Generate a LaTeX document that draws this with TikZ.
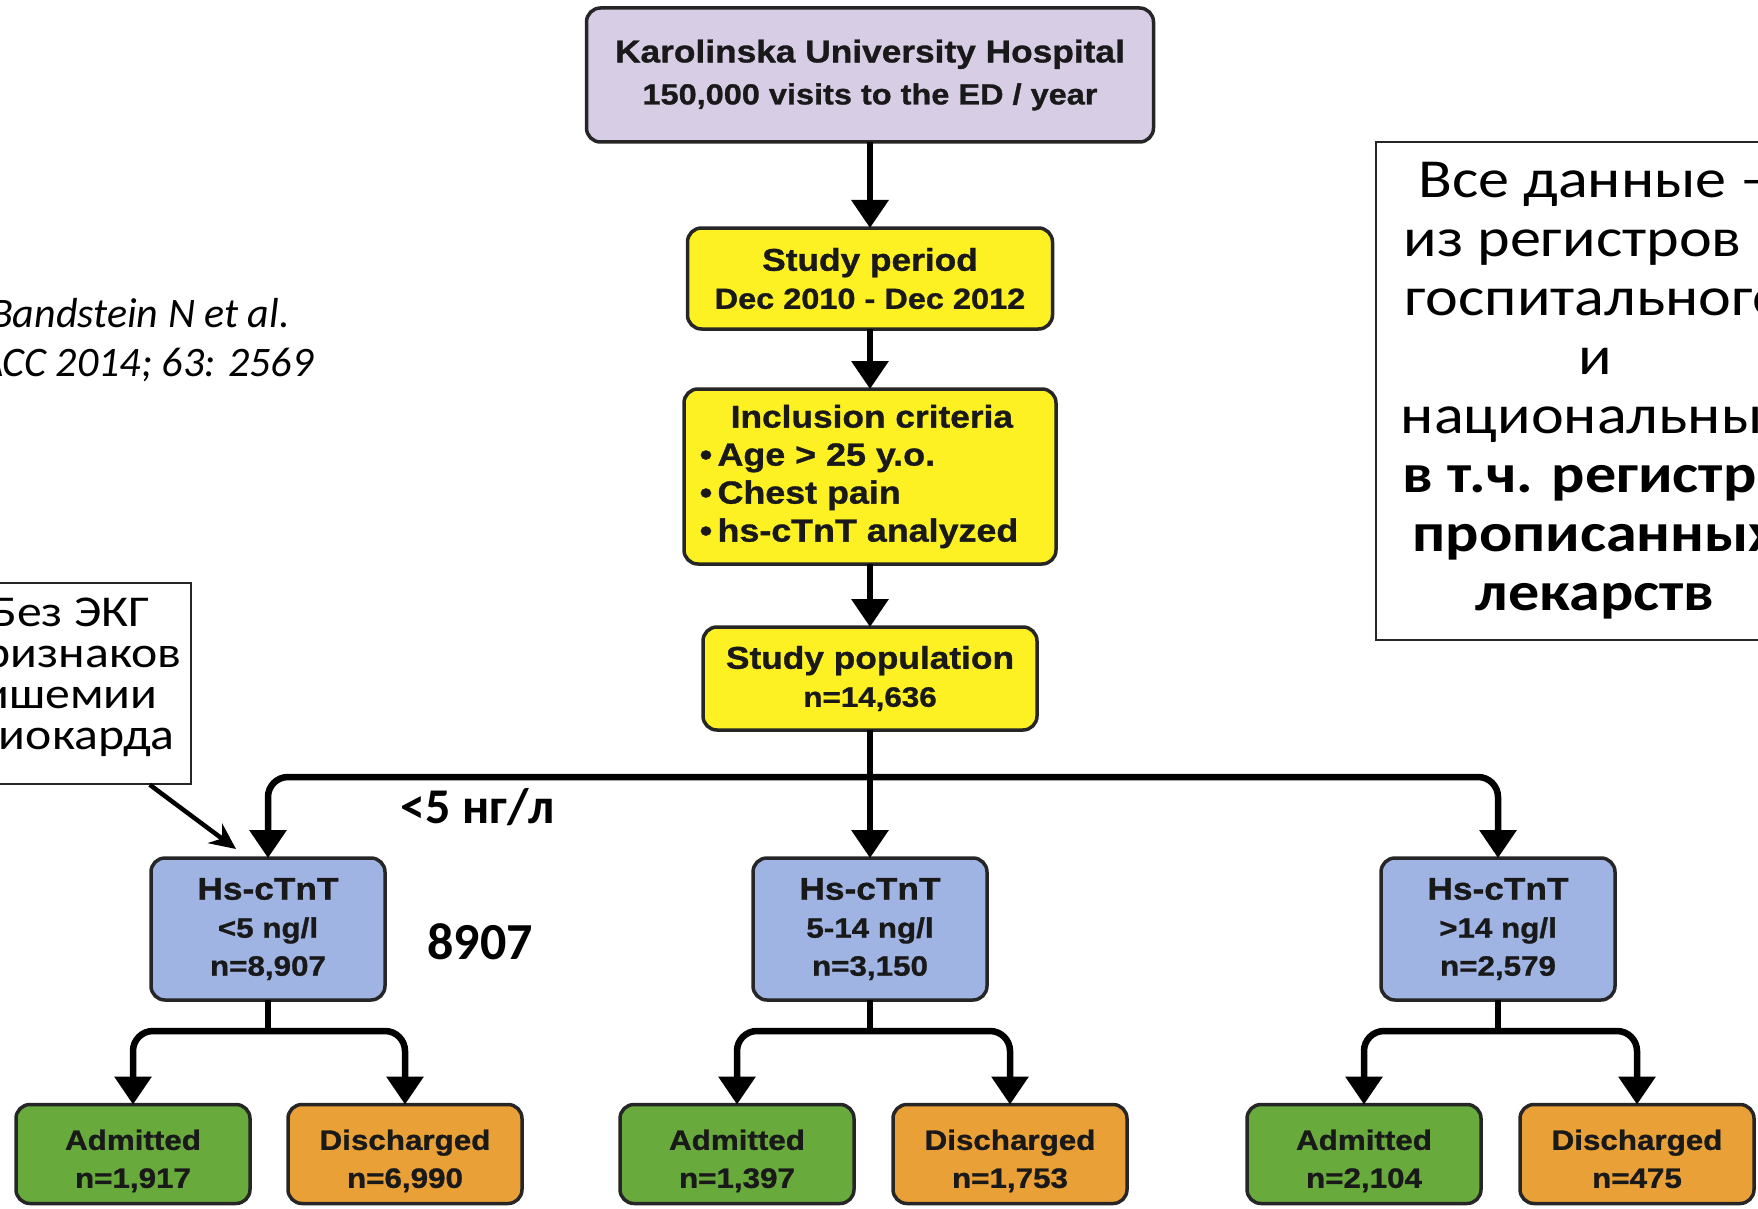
\documentclass[tikz,border=0pt]{standalone}
\usepackage{fontspec}
\setmainfont{Carlito}
\newfontfamily\flowfont[FakeStretch=1.12,FakeBold=1]{Liberation Sans}
\newfontfamily\notefont[FakeStretch=1.13]{Carlito}
\usetikzlibrary{positioning,arrows.meta,calc}

\definecolor{hospLilac}{RGB}{215,205,228}
\definecolor{studyYellow}{RGB}{253,240,35}
\definecolor{tntBlue}{RGB}{160,180,227}
\definecolor{admGreen}{RGB}{104,170,60}
\definecolor{disOrange}{RGB}{233,161,55}

\newcommand{\hd}[1]{{\fontsize{31.5}{38}\selectfont #1}}

\begin{document}
\begin{tikzpicture}[x=1pt, y=-1pt,
    flow/.style={rectangle, rounded corners=14pt, draw=black!85, line width=3.5pt, outer sep=0pt, align=center, inner sep=0pt, text=black!90, font=\flowfont\bfseries\fontsize{28}{38}\selectfont},
    hospital/.style={flow, fill=hospLilac},
    study/.style={flow, fill=studyYellow},
    tnt/.style={flow, fill=tntBlue, minimum width=234pt, minimum height=142pt},
    admitted/.style={flow, fill=admGreen, minimum width=234pt, minimum height=99pt},
    discharged/.style={flow, fill=disOrange, minimum width=234pt, minimum height=99pt},
    flowarrow/.style={-{Triangle[width=36pt,length=28pt]}, line width=6.5pt, rounded corners=20pt},
    flowline/.style={line width=6.5pt},
    note/.style={rectangle, draw=black!85, line width=1.5pt, align=center, inner sep=0pt},
    cutoff/.style={font=\bfseries\fontsize{50}{60}\selectfont}
]
    \useasboundingbox (0,0) rectangle (1758,1209);

    % main column
    \node[hospital, minimum width=567pt, minimum height=134pt] (karolinska) at (870,75) {
        \hd{Karolinska University Hospital} \\[4pt]
        \fontsize{29}{38}\selectfont 150,000 visits to the ED / year
    };

    \node[study, minimum width=365pt, minimum height=101pt, below=86pt of karolinska] (period) {
        \hd{Study period} \\
        \fontsize{29}{38}\selectfont Dec 2010 - Dec 2012
    };

    \node[study, align=left, minimum width=372pt, minimum height=175pt, below=60pt of period] (inclusion) {
        \hspace*{31pt}\hd{Inclusion criteria} \\
        \fontsize{32}{37}\selectfont \textbullet\,Age > 25 y.o. \\
        \fontsize{32}{37}\selectfont \textbullet\,Chest pain \\
        \fontsize{32}{37}\selectfont \textbullet\,hs-cTnT analyzed\hspace*{22pt}
    };

    \node[study, minimum width=334pt, minimum height=103pt, below=63pt of inclusion] (population) {
        \hd{Study population} \\
        n=14,636
    };

    % hs-cTnT groups
    \node[tnt] (tntLow) at (268,929) {\hd{Hs-cTnT} \\ <5 ng/l \\ n=8,907};
    \node[tnt] (tntMid) at (870,929) {\hd{Hs-cTnT} \\ 5-14 ng/l \\ n=3,150};
    \node[tnt] (tntHigh) at (1498,929) {\hd{Hs-cTnT} \\ >14 ng/l \\ n=2,579};

    % outcomes
    \node[admitted] (admLow) at (133,1154) {\mbox{}\\[-4pt] Admitted \\ n=1,917};
    \node[discharged] (disLow) at (405,1154) {\mbox{}\\[-4pt] Discharged \\ n=6,990};
    \node[admitted] (admMid) at (737,1154) {\mbox{}\\[-4pt] Admitted \\ n=1,397};
    \node[discharged] (disMid) at (1010,1154) {\mbox{}\\[-4pt] Discharged \\ n=1,753};
    \node[admitted] (admHigh) at (1364,1154) {\mbox{}\\[-4pt] Admitted \\ n=2,104};
    \node[discharged] (disHigh) at (1637,1154) {\mbox{}\\[-4pt] Discharged \\ n=475\vphantom{,}};

    \draw[flowarrow] (karolinska) -- (period);
    \draw[flowarrow] (period) -- (inclusion);
    \draw[flowarrow] (inclusion) -- (population);

    \coordinate (split) at ($(population.south)+(0,47)$);
    \draw[flowarrow] (population) -- (tntMid);
    \draw[flowarrow] (split) -| (tntLow);
    \draw[flowarrow] (split) -| (tntHigh);

    \coordinate (lowSplit) at ($(tntLow.south)+(0,31)$);
    \coordinate (midSplit) at ($(tntMid.south)+(0,31)$);
    \coordinate (highSplit) at ($(tntHigh.south)+(0,31)$);
    \draw[flowline] (tntLow) -- (lowSplit);
    \draw[flowline] (tntMid) -- (midSplit);
    \draw[flowline] (tntHigh) -- (highSplit);
    \draw[flowarrow] (lowSplit) -| (admLow);
    \draw[flowarrow] (lowSplit) -| (disLow);
    \draw[flowarrow] (midSplit) -| (admMid);
    \draw[flowarrow] (midSplit) -| (disMid);
    \draw[flowarrow] (highSplit) -| (admHigh);
    \draw[flowarrow] (highSplit) -| (disHigh);

    % side notes
    \node[font=\itshape\fontsize{42}{49}\selectfont, align=center] (citation) at (140,340) {
        Bandstein N et al. \\
        JACC 2014; 63: 2569
    };

    \node[note, minimum width=242pt, minimum height=201pt, font=\notefont\fontsize{44}{41}\selectfont] (ecgNote) at (70,683.5) {
        Без ЭКГ \\ признаков \\ ишемии \\ миокарда \\[-21pt] \mbox{}
    };
    \draw[-{Stealth[length=26pt,width=24pt]}, line width=4.5pt] ([xshift=-42pt]ecgNote.south east) -- ([xshift=-32pt,yshift=9pt]tntLow.north);

    \node[cutoff] (cutLabel) at (478,807) {<5 нг/л};
    \node[cutoff, font=\bfseries\fontsize{52}{60}\selectfont] (countLabel) at (480,942) {8907};

    \node[note, minimum width=438pt, minimum height=498pt, font=\notefont\fontsize{55}{59}\selectfont] (registryNote) at (1595,391) {
        Все данные – \\
        из регистров – \\
        госпитального \\
        и \\
        национальных \\
        \textbf{в т.ч. регистра} \\
        \textbf{прописанных} \\
        \textbf{лекарств}
    };
\end{tikzpicture}
\end{document}
